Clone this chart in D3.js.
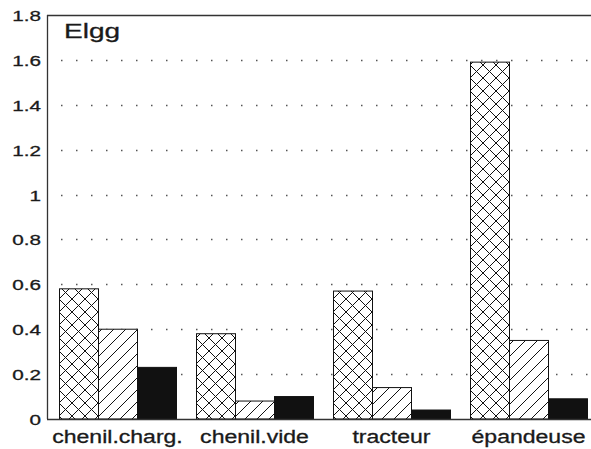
<!DOCTYPE html>
<html>
<head>
<meta charset="utf-8">
<script src="https://cdn.jsdelivr.net/npm/d3@7"></script>
<style>
  html, body { margin: 0; padding: 0; background: #fff; }
  svg { display: block; }
  text { font-family: "Liberation Sans", Arial, Helvetica, sans-serif; fill: #1a1a1a; }
</style>
</head>
<body>
<svg id="chart" width="591" height="449"></svg>
<script>
// Values per site
const categories = ["chenil.charg.", "chenil.vide", "tracteur", "épandeuse"];
const crossValues = [0.58, 0.38, 0.57, 1.59];
const hatchValues = [0.40, 0.08, 0.14, 0.35];
const solidValues = [0.23, 0.10, 0.04, 0.09];
const yTicks = [0, 0.2, 0.4, 0.6, 0.8, 1, 1.2, 1.4, 1.6, 1.8];
const title = "Elgg";

const seriesKeys = ["cross", "hatch", "solid"];
const rows = categories.map((c, i) => ({
  category: c,
  cross: crossValues[i], hatch: hatchValues[i], solid: solidValues[i]
}));

const svg = d3.select("#chart");
const plotLeft = 47, plotRight = 599, plotTop = 15, plotBottom = 419;

const x0 = d3.scaleBand().domain(categories).range([plotLeft, plotRight])
  .paddingInner(20 / 137).paddingOuter(12 / 137);
const x1 = d3.scaleBand().domain(seriesKeys).range([0, x0.bandwidth()]);
const y = d3.scaleLinear().domain([0, 1.8]).range([plotBottom, plotTop]);

// Fill patterns
const defs = svg.append("defs");
const cp = defs.append("pattern").attr("id", "cross")
  .attr("patternUnits", "userSpaceOnUse").attr("width", 13).attr("height", 13);
cp.append("rect").attr("width", 13).attr("height", 13).attr("fill", "#fff");
cp.append("path").attr("d", "M-1,-1 L14,14 M-1,14 L14,-1")
  .attr("stroke", "#111").attr("stroke-width", 1).attr("fill", "none");

const hp = defs.append("pattern").attr("id", "hatch")
  .attr("patternUnits", "userSpaceOnUse").attr("width", 12).attr("height", 12);
hp.append("rect").attr("width", 12).attr("height", 12).attr("fill", "#fff");
hp.append("path").attr("d", "M-3,3 L3,-3 M0,12 L12,0 M9,15 L15,9")
  .attr("stroke", "#111").attr("stroke-width", 1).attr("fill", "none");

const fills = { cross: "url(#cross)", hatch: "url(#hatch)", solid: "#111" };

// Dotted grid
svg.append("g").selectAll("line")
  .data(yTicks.filter(t => t > 0 && t < 1.8))
  .join("line")
  .attr("x1", plotLeft).attr("x2", 591)
  .attr("y1", d => Math.round(y(d)) + 0.5).attr("y2", d => Math.round(y(d)) + 0.5)
  .attr("stroke", "#555").attr("stroke-width", 1.3)
  .attr("stroke-dasharray", "1.5,13.5").attr("stroke-dashoffset", -14);

// Bars
svg.append("g").selectAll("g")
  .data(rows)
  .join("g")
  .attr("transform", d => `translate(${x0(d.category)},0)`)
  .selectAll("rect")
  .data(d => seriesKeys.map(k => ({ key: k, value: d[k] })))
  .join("rect")
  .attr("x", d => x1(d.key) + 0.5)
  .attr("y", d => y(d.value))
  .attr("width", x1.bandwidth())
  .attr("height", d => plotBottom - y(d.value))
  .attr("fill", d => fills[d.key])
  .attr("stroke", "#111").attr("stroke-width", 1);

// Frame: top edge, left axis, baseline
svg.append("line").attr("x1", plotLeft).attr("x2", 591).attr("y1", plotTop + 0.5).attr("y2", plotTop + 0.5)
  .attr("stroke", "#333").attr("stroke-width", 1.3);
svg.append("line").attr("x1", plotLeft + 0.5).attr("x2", plotLeft + 0.5).attr("y1", plotTop).attr("y2", plotBottom)
  .attr("stroke", "#333").attr("stroke-width", 1.3);
svg.append("line").attr("x1", plotLeft).attr("x2", 591).attr("y1", plotBottom + 0.5).attr("y2", plotBottom + 0.5)
  .attr("stroke", "#333").attr("stroke-width", 1.3);

// Y axis labels
const yAxis = svg.append("g").attr("transform", `translate(${plotLeft},0)`)
  .call(d3.axisLeft(y).tickValues(yTicks).tickFormat(d3.format("~g")).tickSize(0).tickPadding(0));
yAxis.select(".domain").remove();
yAxis.selectAll("text")
  .attr("x", null).attr("dy", null).attr("text-anchor", "end")
  .attr("transform", "translate(-6,5.5) scale(1.38,1)")
  .attr("font-size", 15)
  .style("font-family", "'Liberation Sans', Arial, sans-serif")
  .attr("fill", "#1a1a1a").attr("stroke", "#1a1a1a").attr("stroke-width", 0.3);

// Category labels
const xAxis = svg.append("g").attr("transform", `translate(0,${plotBottom})`)
  .call(d3.axisBottom(x0).tickSize(0).tickPadding(0));
xAxis.select(".domain").remove();
xAxis.selectAll("text")
  .attr("y", null).attr("dy", null).attr("text-anchor", "middle")
  .attr("transform", "translate(0,24) scale(1.28,1)")
  .attr("font-size", 18)
  .style("font-family", "'Liberation Sans', Arial, sans-serif")
  .attr("fill", "#1a1a1a").attr("stroke", "#1a1a1a").attr("stroke-width", 0.3);

// Title
svg.append("text")
  .attr("transform", "translate(64,38) scale(1.4,1)")
  .attr("font-size", 20)
  .attr("stroke", "#1a1a1a").attr("stroke-width", 0.3)
  .text(title);
</script>
</body>
</html>
